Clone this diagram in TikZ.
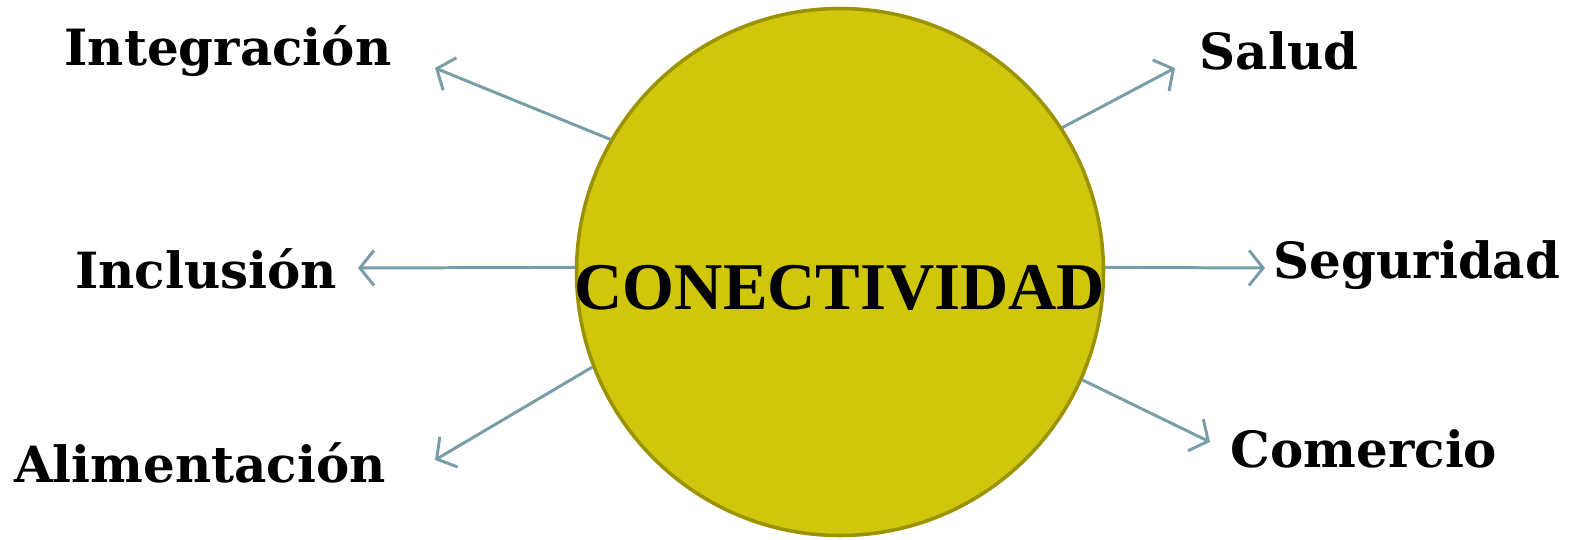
\documentclass[tikz,border=0pt]{standalone}
\usepackage{fontspec}
\setmainfont{Liberation Serif}
\newfontfamily\labelfont{DejaVu Serif}
\usepackage{tikz}
\usetikzlibrary{arrows.meta,positioning}

\definecolor{circfill}{HTML}{D0C60C}
\definecolor{circline}{HTML}{9A9200}
\definecolor{arrline}{HTML}{7A9EA8}

\tikzset{
    topic/.style={font=\labelfont\bfseries\fontsize{14.2}{16}\selectfont, inner sep=0pt},
    link/.style={draw=arrline, line width=0.85pt, -{Straight Barb[length=4pt,width=10pt]}}
}

\begin{document}
\begin{tikzpicture}
        \useasboundingbox (0,0) rectangle (15.70,5.39);

        \node[draw=circline, fill=circfill, line width=1pt, circle, minimum size=5.27cm, inner sep=0pt] (conn) at (8.40,2.67) {};
        \node[font=\bfseries\fontsize{19}{22}\selectfont, inner sep=0pt] (title) at (8.40,2.51) {CONECTIVIDAD};

        \node[topic] (integ) at (2.28,4.88) {Integración};
        \node[topic] (inclu) at (2.06,2.70) {Inclusión};
        \node[topic] (alim) at (2.00,0.76) {Alimentación};
        \node[topic] (salud) at (12.79,4.88) {Salud};
        \node[topic] (segur) at (14.17,2.74) {Seguridad};
        \node[topic] (comer) at (13.64,0.90) {Comercio};

        \coordinate (integ-end) at (4.35,4.71);
        \coordinate (inclu-end) at (3.58,2.71);
        \coordinate (alim-end) at (4.35,0.79);
        \coordinate (salud-end) at (11.75,4.71);
        \coordinate (segur-end) at (12.65,2.71);
        \coordinate (comer-end) at (12.10,0.97);

        \draw[link] (conn.150.1) -- (integ-end);
        \draw[link] (conn.179) -- (inclu-end);
        \draw[link] (conn.201.2) -- (alim-end);
        \draw[link] (conn.33.6) -- (salud-end);
        \draw[link] (conn.1) -- (segur-end);
        \draw[link] (conn.336.2) -- (comer-end);

    \end{tikzpicture}
\end{document}
